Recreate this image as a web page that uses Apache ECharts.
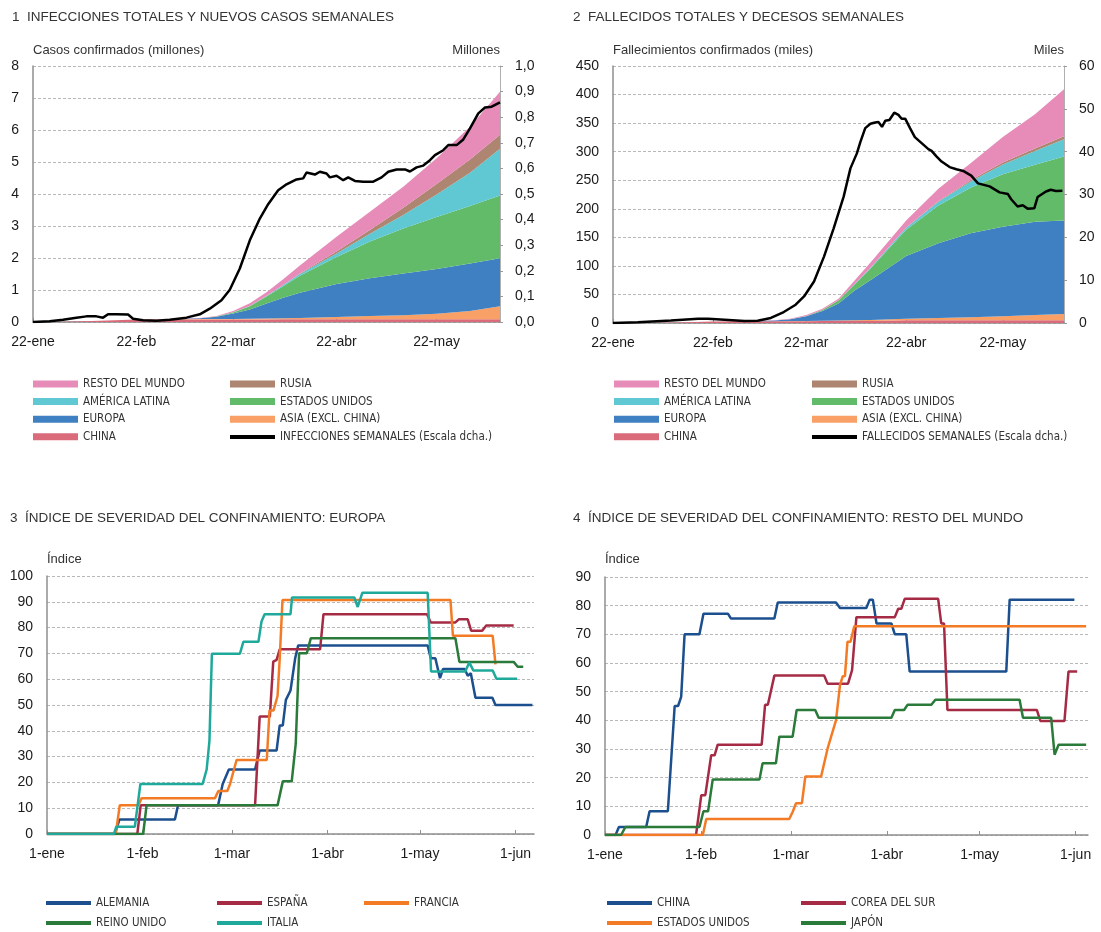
<!DOCTYPE html>
<html>
<head>
<meta charset="utf-8">
<script src="https://cdn.jsdelivr.net/npm/echarts@6/dist/echarts.min.js"></script>
<style>
  html, body { margin: 0; padding: 0; background: #fff; }
  #chart { width: 1101px; height: 932px; }
</style>
</head>
<body>
<div id="chart"></div>
<script>
// dias contados desde el 1-ene-2020 (0 = 1-ene)
const dias = [21, 31, 41, 52, 61, 71, 76, 81, 86, 91, 96, 101, 112, 122, 132, 142, 152, 161];

// casos confirmados acumulados (millones)
const casosChina  = [0.0005, 0.0098, 0.0425, 0.0766, 0.0800, 0.0810, 0.0811, 0.0814, 0.0817, 0.0820, 0.0826, 0.0826, 0.0839, 0.0840, 0.0842, 0.0842, 0.0843, 0.0843];
const casosAsia   = [0, 0.0001, 0.0003, 0.0008, 0.0045, 0.009, 0.011, 0.014, 0.02, 0.028, 0.035, 0.045, 0.07, 0.10, 0.13, 0.17, 0.26, 0.41];
const casosEuropa = [0, 0, 0, 0.0001, 0.0025, 0.025, 0.07, 0.17, 0.29, 0.47, 0.64, 0.79, 1.03, 1.18, 1.30, 1.40, 1.48, 1.50];
const casosEEUU   = [0, 0, 0, 0, 0.0001, 0.0016, 0.006, 0.033, 0.10, 0.215, 0.36, 0.53, 0.85, 1.15, 1.41, 1.63, 1.80, 1.96];
const casosLatam  = [0, 0, 0, 0, 0, 0.0002, 0.001, 0.003, 0.01, 0.02, 0.035, 0.055, 0.11, 0.24, 0.42, 0.70, 1.04, 1.46];
const casosRusia  = [0, 0, 0, 0, 0, 0, 0, 0.0004, 0.001, 0.003, 0.007, 0.013, 0.058, 0.12, 0.23, 0.33, 0.41, 0.44];
const casosResto  = [0, 0, 0.0001, 0.0007, 0.003, 0.011, 0.022, 0.04, 0.08, 0.11, 0.18, 0.25, 0.46, 0.57, 0.65, 0.80, 1.03, 1.34];

// fallecidos acumulados (miles)
const muertesChina  = [0.017, 0.213, 1.018, 2.443, 2.915, 3.173, 3.231, 3.261, 3.296, 3.312, 3.331, 3.339, 4.632, 4.633, 4.633, 4.634, 4.634, 4.634];
const muertesAsia   = [0, 0, 0, 0.001, 0.03, 0.1, 0.2, 0.4, 0.7, 1.0, 1.5, 2.0, 2.8, 4.0, 5.3, 7.0, 9.5, 11];
const muertesEuropa = [0, 0, 0, 0.001, 0.05, 1.0, 3.0, 8.0, 17, 30, 52, 70, 110, 131, 147, 157, 163, 164];
const muertesEEUU   = [0, 0, 0, 0, 0.001, 0.04, 0.1, 0.4, 1.6, 5.0, 10.8, 20.5, 46, 66, 80, 92, 100, 112];
const muertesLatam  = [0, 0, 0, 0, 0, 0, 0, 0.05, 0.15, 0.3, 0.7, 1.3, 3.5, 6.5, 11, 17, 24, 30];
const muertesRusia  = [0, 0, 0, 0, 0, 0, 0, 0, 0, 0.02, 0.05, 0.1, 0.5, 1.1, 2.0, 3.2, 4.6, 5.5];
const muertesResto  = [0, 0, 0, 0.01, 0.07, 0.4, 1.0, 2.0, 2.3, 3.0, 6.0, 9.0, 12, 22, 30, 45, 60, 82];

// nuevos casos semanales (millones, escala dcha.)
const diasInfecciones = [21, 26, 30, 34, 37, 40, 42, 43.5, 46, 49.5, 51, 54, 58, 62, 67, 71, 74, 77.5, 80, 83, 86, 89, 91.5, 94.5, 97, 100, 102, 103, 105.5, 107, 109, 110, 112, 114, 115.5, 117.5, 120, 123, 125.5, 127.5, 130, 132.5, 134, 136, 138, 140, 141.5, 144, 145.5, 148, 150, 152, 154.5, 156.5, 158.5, 161];
const infecciones = [0, 0.003, 0.009, 0.017, 0.022, 0.022, 0.017, 0.03, 0.03, 0.029, 0.013, 0.0065, 0.005, 0.009, 0.017, 0.03, 0.052, 0.085, 0.126, 0.209, 0.319, 0.404, 0.46, 0.515, 0.538, 0.557, 0.561, 0.584, 0.576, 0.587, 0.58, 0.565, 0.571, 0.554, 0.565, 0.551, 0.548, 0.548, 0.565, 0.587, 0.596, 0.596, 0.588, 0.604, 0.611, 0.632, 0.652, 0.671, 0.691, 0.691, 0.713, 0.756, 0.815, 0.838, 0.841, 0.858];

// fallecidos semanales (miles, escala dcha.)
const diasFallecidos = [21, 28.7, 39, 47.4, 50.5, 55.6, 61.8, 65.9, 70, 74, 77.7, 80.3, 83.4, 86.5, 89.5, 92.6, 94.7, 96.7, 97.8, 99.3, 100.9, 102.4, 103.4, 104.5, 105.5, 106.8, 108.3, 109.6, 110.6, 111.7, 113.2, 114.7, 116.8, 118.9, 119.9, 121.4, 123, 125.5, 127.6, 129.7, 132.2, 134.3, 137.9, 141, 143.6, 144.6, 146.6, 148.2, 149.7, 151.8, 152.8, 155.4, 156.9, 158.5, 160.5];
const fallecidos = [0, 0.15, 0.6, 1.0, 1.0, 0.78, 0.47, 0.54, 1.17, 2.56, 4.27, 6.2, 9.7, 15.5, 22.1, 29.5, 36.1, 39.6, 42.3, 45.5, 46.5, 46.8, 46.9, 45.8, 47.2, 47.4, 49.1, 48.6, 47.7, 47.7, 45.5, 43.4, 42.0, 40.6, 40.2, 38.9, 37.7, 36.4, 35.9, 35.5, 34.4, 32.6, 31.9, 30.5, 30.1, 28.9, 27.2, 27.5, 26.7, 26.8, 29.4, 30.7, 31.1, 30.8, 30.9];

// índice de severidad del confinamiento: [día, índice]
const alemania = [[0, 0], [22, 0], [23.5, 5.6], [41.5, 5.6], [42.5, 11.1], [55.5, 11.1], [57, 19.4], [59, 25], [67.5, 25], [69, 32.4], [74.5, 32.4], [75.5, 42.1], [76.5, 42.1], [77.5, 52], [79, 55.6], [80.5, 68], [81.5, 73.1], [123.5, 73.1], [124.5, 68.1], [126, 68.1], [127.5, 60.4], [128.5, 64], [135.5, 64], [136.5, 61.3], [137.5, 62.3], [139, 52.8], [144.5, 52.8], [145.5, 50], [157.5, 50]];
const espana = [[0, 0], [29.3, 0], [30.4, 11.1], [67.5, 11.1], [69, 45.5], [72.3, 45.5], [73.4, 66.8], [74.5, 67.5], [75.5, 71.6], [88.6, 71.6], [89.7, 85.2], [123.3, 85.2], [124.5, 82], [132.5, 82], [133.6, 83.2], [136.5, 83.2], [137.6, 78.8], [141.2, 78.8], [142.5, 80.8], [151.4, 80.8]];
const francia = [[0, 0], [22.3, 0], [23.6, 11.1], [29.6, 11.1], [30.7, 13.9], [54.5, 13.9], [55.6, 16.7], [58.5, 16.7], [59.4, 19.4], [61.5, 28.7], [71.3, 28.7], [72.2, 47.9], [73.5, 47.9], [74.8, 53.5], [75.5, 68], [76.4, 90.7], [130.9, 90.7], [131.7, 76.8], [144.6, 76.8], [145.5, 65.7]];
const reinoUnido = [[0, 0], [31.2, 0], [32.3, 11.1], [74.8, 11.1], [76.5, 20.4], [79.4, 20.4], [80.7, 35], [81.8, 70.1], [84.3, 70.1], [85.6, 75.9], [132.5, 75.9], [133.8, 66.7], [151.4, 66.7], [152.7, 64.8], [154.5, 64.8]];
const italia = [[0, 0], [21.7, 0], [22.5, 2.8], [28.5, 2.8], [30.3, 19.4], [50.5, 19.4], [51.8, 25], [52.7, 36.1], [53.5, 69.9], [62.6, 69.9], [63.7, 74.5], [68.6, 74.5], [69.6, 82.4], [70.6, 85.2], [79, 85.2], [79.5, 91.7], [99.7, 91.7], [100.8, 88], [102.3, 93.5], [123.5, 93.5], [124.6, 63], [135.7, 63], [137, 66.5], [138.3, 63.4], [144.6, 63.4], [145.8, 60.2], [152.5, 60.2]];

const china = [[0, 0], [3.4, 0], [4.5, 2.8], [13.3, 2.8], [14.4, 8.3], [20.3, 8.3], [22.5, 45], [23.6, 45], [24.6, 48.2], [25.7, 70], [30.5, 70], [31.8, 77.2], [39.7, 77.2], [40.7, 75.5], [54.7, 75.5], [55.8, 81.1], [74.6, 81.1], [75.9, 79.2], [84.4, 79.2], [85.5, 82.1], [86.5, 82.1], [87.7, 73.8], [92.5, 73.8], [93.6, 70], [97.3, 70], [98.4, 57], [129.6, 57], [130.7, 82.1], [151.6, 82.1]];
const corea = [[0, 0], [29.4, 0], [31.1, 13.9], [32.4, 13.9], [34.3, 27.8], [35.4, 27.8], [36.4, 31.5], [50.6, 31.5], [51.7, 45.4], [52.6, 45.4], [54.7, 55.6], [70.8, 55.6], [71.9, 52.8], [78.5, 52.8], [79.8, 57.5], [81.2, 76], [93.6, 76], [94.7, 78.9], [95.7, 78.9], [96.8, 82.4], [107.6, 82.4], [108.6, 73.8], [109.5, 73.8], [110.6, 43.6], [139.5, 43.6], [140.6, 39.8], [148.4, 39.8], [149.7, 57], [152.5, 57]];
const eeuu = [[0, 0], [31.6, 0], [32.7, 5.6], [59.5, 5.6], [60.6, 8], [61.7, 11.1], [63.6, 11.1], [64.7, 20.4], [69.8, 20.4], [71.9, 30.2], [72.5, 30.2], [74.6, 40], [75.9, 52.3], [76.8, 55.4], [77.5, 55.4], [78.3, 67.4], [79.3, 67.4], [80.5, 72.8], [155.4, 72.8]];
const japon = [[0, 0], [5.2, 0], [6.6, 2.8], [30.5, 2.8], [31.8, 8.3], [33.3, 8.3], [34.8, 19.4], [49.9, 19.4], [50.9, 25], [55.2, 25], [56.3, 34.3], [60.6, 34.3], [61.9, 43.6], [67.9, 43.6], [69, 40.9], [92.5, 40.9], [93.6, 43.6], [96.6, 43.6], [97.7, 45.4], [105.4, 45.4], [106.7, 47.2], [133.9, 47.2], [135, 40.9], [144.1, 40.9], [145.2, 28], [146.5, 31.5], [155.4, 31.5]];

// etiquetas del eje x
const diasEtiq22 = [21, 52, 81, 112, 142];
const etiq22 = ['22-ene', '22-feb', '22-mar', '22-abr', '22-may'];
const diasEtiq1 = [0, 31, 60, 91, 121, 152];
const etiq1 = ['1-ene', '1-feb', '1-mar', '1-abr', '1-may', '1-jun'];

const FONT = "'Liberation Sans', Arial, Helvetica, sans-serif";
const NARROW = "'Liberation Sans Narrow', 'DejaVu Sans Condensed', sans-serif";

const cResto = '#e78bb9', cLatam = '#5fc8d3', cEuropa = '#3f80c2', cChina = '#d96b7b';
const cRusia = '#ad8570', cEEUU = '#61bb69', cAsia = '#f8a066';
const lAzul = '#1c4f8e', lRojo = '#a52b45', lNaranja = '#f47b25', lVerde = '#2a7a3a', lTeal = '#1fa99b';

const chart = echarts.init(document.getElementById('chart'));

function ejeX(grid, min, max, ticks, labels) {
  return {
    type: 'value', gridIndex: grid, min, max,
    axisLine: { show: true, onZero: false, lineStyle: { color: '#8f8f8f', width: 1.5 } },
    axisTick: { show: true, inside: true, length: 4, lineStyle: { color: '#8f8f8f' }, customValues: ticks },
    axisLabel: {
      customValues: ticks, margin: 13, fontFamily: FONT, fontSize: 14, color: '#1a1a1a',
      formatter: v => labels[ticks.indexOf(v)] || ''
    },
    splitLine: { show: false }
  };
}

function ejeY(grid, max, interval, name, pos, fmt) {
  const right = pos === 'right';
  return {
    type: 'value', gridIndex: grid, position: pos, min: 0, max, interval,
    name, nameLocation: 'end', nameGap: 16,
    nameTextStyle: { fontFamily: FONT, fontSize: 13, color: '#333', align: right ? 'right' : 'left', verticalAlign: 'middle', padding: 0 },
    axisLine: { show: true, lineStyle: { color: right ? '#b0b0b0' : '#8f8f8f', width: right ? 1 : 1.5 } },
    axisTick: { show: right, length: 3, lineStyle: { color: '#9a9a9a' } },
    axisLabel: { margin: right ? 15 : 14, fontFamily: FONT, fontSize: 14, color: '#1a1a1a', formatter: fmt },
    splitLine: { show: !right, lineStyle: { color: '#b8b8b8', type: [3, 2], width: 1 } }
  };
}

// área apilada: el valor va en la primera columna para que se apile sobre y
function area(name, color, vals, xi, yi, stack) {
  return {
    name, type: 'line', xAxisIndex: xi, yAxisIndex: yi, stack,
    data: vals.map((v, i) => [v, dias[i]]),
    encode: { x: 1, y: 0 },
    symbol: 'none', lineStyle: { width: 0 }, itemStyle: { color },
    areaStyle: { color, opacity: 1 }, silent: true, emphasis: { disabled: true }
  };
}

function linea(name, color, xs, ys, xi, yi) {
  return {
    name, type: 'line', xAxisIndex: xi, yAxisIndex: yi,
    data: xs.map((d, i) => [d, ys[i]]),
    symbol: 'none', itemStyle: { color }, lineStyle: { color, width: 2.5 },
    silent: true, emphasis: { disabled: true }
  };
}

function indice(name, color, pts, xi, yi) {
  return {
    name, type: 'line', xAxisIndex: xi, yAxisIndex: yi,
    data: pts,
    symbol: 'none', itemStyle: { color }, lineStyle: { color, width: 2.5 },
    silent: true, emphasis: { disabled: true }
  };
}

function leyenda(left, top, items, alto, gap) {
  return {
    left, top, orient: 'vertical', padding: 0, itemGap: gap,
    itemWidth: 45, itemHeight: alto, icon: 'rect', selectedMode: false,
    textStyle: { fontFamily: NARROW, fontSize: 11.5, color: '#333', lineHeight: 14 },
    data: items.map(([name, color]) => ({ name, icon: 'rect', itemStyle: { color, borderWidth: 0 } }))
  };
}

const tituloStyle = { fontFamily: FONT, fontSize: 13.5, fontWeight: 'normal', color: '#333', lineHeight: 14 };
const coma = v => v.toFixed(1).replace('.', ',');

const option = {
  animation: false,
  backgroundColor: '#fff',
  title: [
    { text: '1  INFECCIONES TOTALES Y NUEVOS CASOS SEMANALES', left: 12, top: 10, padding: 0, textStyle: tituloStyle },
    { text: '2  FALLECIDOS TOTALES Y DECESOS SEMANALES', left: 573, top: 10, padding: 0, textStyle: tituloStyle },
    { text: '3  ÍNDICE DE SEVERIDAD DEL CONFINAMIENTO: EUROPA', left: 10, top: 511, padding: 0, textStyle: tituloStyle },
    { text: '4  ÍNDICE DE SEVERIDAD DEL CONFINAMIENTO: RESTO DEL MUNDO', left: 573, top: 511, padding: 0, textStyle: tituloStyle }
  ],
  grid: [
    { left: 33, top: 66, width: 467, height: 256, outerBoundsMode: 'none' },
    { left: 613, top: 66, width: 451, height: 257, outerBoundsMode: 'none' },
    { left: 47, top: 576, width: 487, height: 258, outerBoundsMode: 'none' },
    { left: 605, top: 577, width: 483, height: 258, outerBoundsMode: 'none' }
  ],
  xAxis: [
    ejeX(0, 21, 161, diasEtiq22, etiq22),
    ejeX(1, 21, 161, diasEtiq22, etiq22),
    ejeX(2, 0, 158, diasEtiq1, etiq1),
    ejeX(3, 0, 156, diasEtiq1, etiq1)
  ],
  yAxis: [
    ejeY(0, 8, 1, 'Casos confirmados (millones)', 'left'),
    ejeY(0, 1, 0.1, 'Millones', 'right', coma),
    ejeY(1, 450, 50, 'Fallecimientos confirmados (miles)', 'left'),
    ejeY(1, 60, 10, 'Miles', 'right'),
    Object.assign(ejeY(2, 100, 10, 'Índice', 'left'), { nameGap: 17 }),
    Object.assign(ejeY(3, 90, 10, 'Índice', 'left'), { nameGap: 18 })
  ],
  legend: [
    leyenda(33, 377, [['RESTO DEL MUNDO', cResto], ['AMÉRICA LATINA', cLatam], ['EUROPA', cEuropa], ['CHINA', cChina]], 7, 3.6),
    leyenda(230, 377, [['RUSIA', cRusia], ['ESTADOS UNIDOS', cEEUU], ['ASIA (EXCL. CHINA)', cAsia]], 7, 3.6),
    leyenda(230, 430, [['INFECCIONES SEMANALES (Escala dcha.)', '#000']], 4, 0),
    leyenda(614, 377, [['RESTO DEL MUNDO', cResto], ['AMÉRICA LATINA', cLatam], ['EUROPA', cEuropa], ['CHINA', cChina]], 7, 3.6),
    leyenda(812, 377, [['RUSIA', cRusia], ['ESTADOS UNIDOS', cEEUU], ['ASIA (EXCL. CHINA)', cAsia]], 7, 3.6),
    leyenda(812, 430, [['FALLECIDOS SEMANALES (Escala dcha.)', '#000']], 4, 0),
    leyenda(46, 896, [['ALEMANIA', lAzul], ['REINO UNIDO', lVerde]], 4, 6),
    leyenda(217, 896, [['ESPAÑA', lRojo], ['ITALIA', lTeal]], 4, 6),
    leyenda(364, 896, [['FRANCIA', lNaranja]], 4, 6),
    leyenda(607, 896, [['CHINA', lAzul], ['ESTADOS UNIDOS', lNaranja]], 4, 6),
    leyenda(801, 896, [['COREA DEL SUR', lRojo], ['JAPÓN', lVerde]], 4, 6)
  ],
  series: [
    area('CHINA', cChina, casosChina, 0, 0, 'casos'),
    area('ASIA (EXCL. CHINA)', cAsia, casosAsia, 0, 0, 'casos'),
    area('EUROPA', cEuropa, casosEuropa, 0, 0, 'casos'),
    area('ESTADOS UNIDOS', cEEUU, casosEEUU, 0, 0, 'casos'),
    area('AMÉRICA LATINA', cLatam, casosLatam, 0, 0, 'casos'),
    area('RUSIA', cRusia, casosRusia, 0, 0, 'casos'),
    area('RESTO DEL MUNDO', cResto, casosResto, 0, 0, 'casos'),
    linea('INFECCIONES SEMANALES (Escala dcha.)', '#000', diasInfecciones, infecciones, 0, 1),

    area('CHINA', cChina, muertesChina, 1, 2, 'muertes'),
    area('ASIA (EXCL. CHINA)', cAsia, muertesAsia, 1, 2, 'muertes'),
    area('EUROPA', cEuropa, muertesEuropa, 1, 2, 'muertes'),
    area('ESTADOS UNIDOS', cEEUU, muertesEEUU, 1, 2, 'muertes'),
    area('AMÉRICA LATINA', cLatam, muertesLatam, 1, 2, 'muertes'),
    area('RUSIA', cRusia, muertesRusia, 1, 2, 'muertes'),
    area('RESTO DEL MUNDO', cResto, muertesResto, 1, 2, 'muertes'),
    linea('FALLECIDOS SEMANALES (Escala dcha.)', '#000', diasFallecidos, fallecidos, 1, 3),

    indice('ALEMANIA', lAzul, alemania, 2, 4),
    indice('ESPAÑA', lRojo, espana, 2, 4),
    indice('FRANCIA', lNaranja, francia, 2, 4),
    indice('REINO UNIDO', lVerde, reinoUnido, 2, 4),
    indice('ITALIA', lTeal, italia, 2, 4),

    indice('CHINA', lAzul, china, 3, 5),
    indice('COREA DEL SUR', lRojo, corea, 3, 5),
    indice('ESTADOS UNIDOS', lNaranja, eeuu, 3, 5),
    indice('JAPÓN', lVerde, japon, 3, 5)
  ]
};

chart.setOption(option);
</script>
</body>
</html>
